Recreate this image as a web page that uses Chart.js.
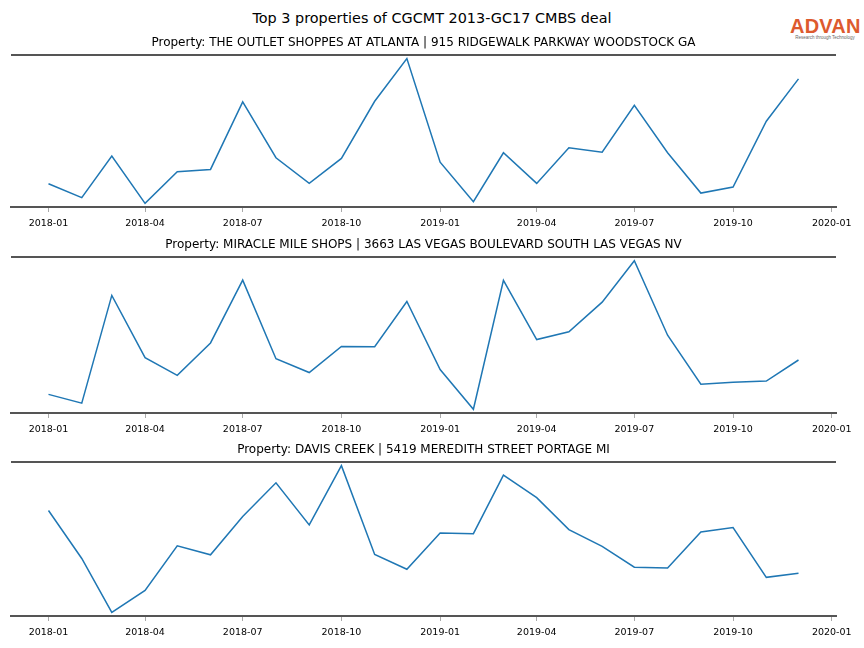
<!DOCTYPE html>
<html>
<head>
<meta charset="utf-8">
<script src="https://cdn.jsdelivr.net/npm/chart.js@4.4.1/dist/chart.umd.min.js"></script>
<style>
  body { margin: 0; background: #fff; width: 864px; height: 648px; position: relative; overflow: hidden; font-family: "DejaVu Sans", sans-serif; }
  canvas { position: absolute; left: 0; }
  #suptitle { position: absolute; top: 10px; left: 0; width: 864px; text-align: center; font-size: 14.4px; color: #000; }
  #logo { position: absolute; left: 790px; top: 17px; width: 70px; text-align: center; font-family: "Liberation Sans", sans-serif; }
  #logo .name { font-size: 20px; font-weight: bold; color: #dd5a2e; line-height: 18px; letter-spacing: 0.2px; }
  #logo .tag { font-size: 4.5px; color: #666; line-height: 6px; white-space: nowrap; }
</style>
</head>
<body>
<div id="suptitle">Top 3 properties of CGCMT 2013-GC17 CMBS deal</div>
<div id="logo"><div class="name">ADVAN</div><div class="tag">Research through Technology</div></div>
<script>
// monthly data, 2018-01 .. 2019-12
var months = ['2018-01', '2018-02', '2018-03', '2018-04', '2018-05', '2018-06',
              '2018-07', '2018-08', '2018-09', '2018-10', '2018-11', '2018-12',
              '2019-01', '2019-02', '2019-03', '2019-04', '2019-05', '2019-06',
              '2019-07', '2019-08', '2019-09', '2019-10', '2019-11', '2019-12'];

var tickLabels = ['2018-01', '2018-04', '2018-07', '2018-10', '2019-01',
                  '2019-04', '2019-07', '2019-10', '2020-01'];

var titles = [
    'Property: THE OUTLET SHOPPES AT ATLANTA | 915 RIDGEWALK PARKWAY WOODSTOCK GA',
    'Property: MIRACLE MILE SHOPS | 3663 LAS VEGAS BOULEVARD SOUTH LAS VEGAS NV',
    'Property: DAVIS CREEK | 5419 MEREDITH STREET PORTAGE MI'
];

var outletVisits = [257, 117, 533, 60, 377, 400, 1077, 517, 260, 510, 1083, 1510,
                    473, 77, 567, 260, 617, 573, 1043, 567, 163, 223, 883, 1307];
var miracleVisits = [213, 127, 1183, 573, 400, 717, 1333, 563, 427, 683, 680, 1123,
                     457, 67, 1330, 750, 827, 1117, 1523, 793, 313, 333, 343, 550];
var davisVisits = [1083, 607, 73, 290, 733, 643, 1023, 1357, 940, 1527, 647, 500,
                   860, 853, 1433, 1210, 893, 727, 520, 513, 870, 913, 420, 460];

var seriesList = [outletVisits, miracleVisits, davisVisits];

// layout of the three panels (spine positions in page pixels)
var spineTop = [55, 257, 462];
var spineBottom = [207, 413, 616];

function dayOf(ym) {
    var p = ym.split('-').map(Number);
    return (Date.UTC(p[0], p[1] - 1, 1) - Date.UTC(2018, 0, 1)) / 86400000;
}

var topSpine = {
    id: 'topSpine',
    afterDraw: function(chart) {
        var a = chart.chartArea, c = chart.ctx;
        c.save();
        c.strokeStyle = '#555555';
        c.lineWidth = 2;
        c.beginPath();
        c.moveTo(a.left, a.top);
        c.lineTo(a.right, a.top);
        c.stroke();
        c.restore();
    }
};

var xs = months.map(dayOf);
var xRange = xs[xs.length - 1] - xs[0];
var xMin = xs[0] - 0.05 * xRange;
var xMax = xs[xs.length - 1] + 0.05 * xRange;

seriesList.forEach(function(vals, i) {
    var canvas = document.createElement('canvas');
    var top = spineTop[i] - 25;
    var h = spineBottom[i] - top + 26;
    canvas.width = 864;
    canvas.height = h;
    canvas.style.top = top + 'px';
    document.body.appendChild(canvas);

    var lo = Math.min.apply(null, vals), hi = Math.max.apply(null, vals);
    var pad = 0.025 * (hi - lo);

    new Chart(canvas.getContext('2d'), {
        type: 'line',
        data: {
            datasets: [{
                data: months.map(function(m, j) { return { x: dayOf(m), y: vals[j] }; }),
                borderColor: '#1f77b4',
                borderWidth: 1.5,
                pointRadius: 0,
                tension: 0,
                fill: false
            }]
        },
        options: {
            responsive: false,
            animation: false,
            layout: { padding: { left: 11, right: 28, top: 0, bottom: 0 } },
            plugins: {
                legend: { display: false },
                tooltip: { enabled: false },
                title: {
                    display: true,
                    text: titles[i],
                    color: '#000',
                    font: { family: 'DejaVu Sans', size: 12, weight: 'normal', lineHeight: 14 / 12 },
                    padding: { top: 6, bottom: 5 }
                }
            },
            scales: {
                x: {
                    type: 'linear',
                    min: xMin,
                    max: xMax,
                    afterBuildTicks: function(scale) {
                        scale.ticks = tickLabels.map(function(t) { return { value: dayOf(t) }; });
                    },
                    afterFit: function(scale) { scale.height = 26; },
                    ticks: {
                        callback: function(v, idx) { return tickLabels[idx]; },
                        color: '#000',
                        font: { family: 'DejaVu Sans', size: 9.5 },
                        padding: 6,
                        maxRotation: 0,
                        autoSkip: false
                    },
                    grid: { display: true, drawOnChartArea: false, drawTicks: true, tickLength: 5, color: '#aaaaaa' },
                    border: { display: true, color: '#555555', width: 2 }
                },
                y: { display: false, min: lo - pad, max: hi + pad }
            }
        },
        plugins: [topSpine]
    });
});
</script>
</body>
</html>
